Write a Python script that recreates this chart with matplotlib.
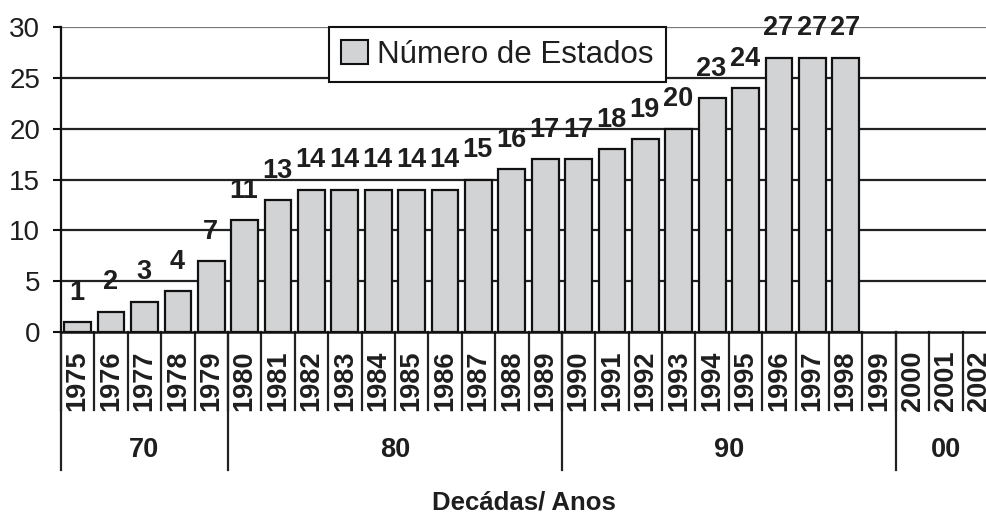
import matplotlib
matplotlib.use("Agg")
import matplotlib.pyplot as plt
from matplotlib.transforms import blended_transform_factory
from matplotlib.patches import Patch

years = [str(y) for y in range(1975, 2003)]
values = [1, 2, 3, 4, 7, 11, 13, 14, 14, 14, 14, 14, 15, 16, 17, 17, 18, 19, 20, 23, 24, 27, 27, 27]
decades = ["70", "80", "90", "00"]
decade_start = [0, 5, 15, 25]
decade_end = [5, 15, 25, 28]
series_name = "Número de Estados"
xlabel = "Decádas/ Anos"
yticks = [0, 5, 10, 15, 20, 25, 30]

plt.rcParams['font.family'] = ['Liberation Sans', 'DejaVu Sans']
txt = '#1e1e1e'

fig = plt.figure(figsize=(9.87, 5.15), dpi=100)
ax = fig.add_axes([61/987, (515-332)/515, (996-61)/987, 305/515])

xs = list(range(len(values)))
ax.bar(xs, values, width=0.8, color='#d2d3d5', edgecolor='#111111', linewidth=1.6, zorder=3)

for x, v in zip(xs, values):
    ax.annotate(str(v), (x, v), xytext=(-0.5, 16), textcoords='offset points',
                ha='center', va='baseline', fontsize=19.5, fontweight='bold', color=txt, zorder=5)

ax.set_xlim(-0.5, len(years) - 0.5)
ax.set_ylim(0, 30)
ax.set_yticks(yticks)
ax.set_yticklabels([str(t) for t in yticks], fontsize=20, color=txt)
ax.tick_params(axis='y', length=6, width=1.5, color='#111111', pad=9)
ax.set_xticks([])
for y in yticks[1:]:
    ax.axhline(y, color='#222222' if y < 30 else '#777777', lw=1.6, zorder=1)

for s in ['top', 'right']:
    ax.spines[s].set_visible(False)
ax.spines['left'].set_linewidth(1.6)
ax.spines['left'].set_color('#111111')
ax.spines['bottom'].set_linewidth(1.8)
ax.spines['bottom'].set_color('#111111')

tr = blended_transform_factory(ax.transData, ax.transAxes)
for i, yl in enumerate(years):
    ax.text(i, -0.062, yl, rotation=90, ha='center', va='top', fontsize=19.5,
            fontweight='bold', color=txt, transform=tr)
for b in range(len(years) + 1):
    ax.plot([b - 0.5, b - 0.5], [0, -0.256], transform=tr, color='#222222', lw=1.6, clip_on=False)
for d, s, e in zip(decades, decade_start, decade_end):
    ax.plot([s - 0.5, s - 0.5], [0, -0.452], transform=tr, color='#222222', lw=1.6, clip_on=False)
    ax.text((s + e) / 2 - 0.5, -0.388, d, ha='center', va='center', fontsize=19.5,
            fontweight='bold', color=txt, transform=tr)

fig.text(524/987, 1 - 502/515, xlabel, ha='center', va='center', fontsize=18.5,
         fontweight='bold', color=txt)

leg = ax.legend(handles=[Patch(facecolor='#d2d3d5', edgecolor='#111111', linewidth=1.5, label=series_name)],
                loc='upper left', bbox_to_anchor=(0.2866, 1.0), borderaxespad=0,
                fancybox=False, framealpha=1, edgecolor='#111111', fontsize=22.5,
                handlelength=0.85, handleheight=0.85, handletextpad=0.3, borderpad=0.4)
leg.get_frame().set_linewidth(1.5)
leg.set_zorder(6)
for t in leg.get_texts():
    t.set_color(txt)

fig.savefig("out.png", dpi=100)
